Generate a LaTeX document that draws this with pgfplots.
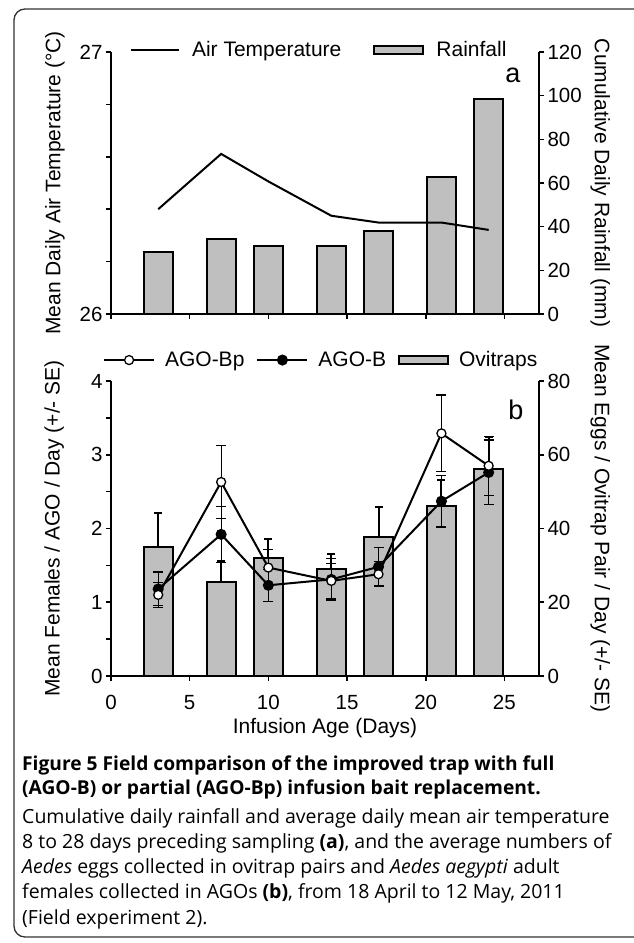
\documentclass[border=0pt]{standalone}
\usepackage{fontspec}
\setmainfont{Liberation Sans}
\newfontfamily\capfont{Open Sans}
\usepackage{pgfplots}
\usepackage{pgfplotstable}
\pgfplotsset{compat=1.18}

% panel a: rainfall (mm) and mean air temperature (C)
\pgfplotstableread{
x rain temp
3 28.3 26.400
7 34.4 26.611
10 31.3 26.506
14 31.3 26.375
17 37.8 26.349
21 62.7 26.349
24 98.5 26.321
}\toptable

% panel b: ovitrap eggs, AGO-Bp and AGO-B females, with SE
\pgfplotstableread{
x ovi ovie bp bpe b be
3 35.0 9.1 1.10 0.17 1.18 0.23
7 25.6 5.7 2.63 0.50 1.92 0.38
10 31.9 5.2 1.47 0.24 1.23 0.22
14 28.9 4.2 1.29 0.24 1.31 0.28
17 37.6 8.1 1.38 0.17 1.48 0.26
21 46.1 7.0 3.29 0.52 2.37 0.35
24 56.0 8.8 2.85 0.40 2.76 0.44
}\bottable

\pgfplotsset{
  panel/.style={
    scale only axis, width=428pt, xmin=0, xmax=27.2,
    tick align=outside,
    major tick length=5pt, minor tick length=5pt,
    tick style={black, line width=1.6pt},
    axis line style={-, line width=2.2pt},
    /pgf/number format/assume math mode=true,
    tick label style={font=\fontsize{20.5}{24}\selectfont},
    label style={font=\fontsize{21}{25}\selectfont},
    xtick={0,5,10,15,20,25},
    clip=false,
  },
  barstyle/.style={ybar, bar width=1.84, draw=black, fill=gray!50, line width=2pt},
  lineleg/.style={legend image code/.code={\draw[##1] (0pt,0pt) -- (48pt,0pt);}},
  markleg/.style={legend image code/.code={\draw[mark repeat=2,mark phase=2,##1] plot coordinates {(0pt,0pt) (25pt,0pt) (50pt,0pt)};}},
  barleg/.style={legend image code/.code={\draw[##1] (0pt,-4pt) rectangle (49pt,4pt);}},
  leftlab/.style={every axis y label/.style={at={(axis description cs:#1,0.5)}, rotate=90, anchor=center, font=\fontsize{21}{25}\selectfont}},
  rightlab/.style={every axis y label/.style={at={(axis description cs:#1,0.5)}, rotate=-90, anchor=center, font=\fontsize{21}{25}\selectfont}},
}

\begin{document}
\begin{tikzpicture}[x=1pt, y=1pt]
\useasboundingbox (0,0) rectangle (633,943);
\fill[white] (0,0) rectangle (633,943);
\draw[line width=1.3pt, black!80, rounded corners=11pt] (14,6) rectangle (680,934);

% ---- panel a ----
\begin{axis}[panel, at={(111pt,629pt)}, anchor=south west, height=262pt,
  ymin=0, ymax=120, ytick={0,20,...,120},
  axis x line=none, axis y line*=right,
  rightlab=1.143, ylabel={Cumulative Daily Rainfall (mm)}]
\addplot[barstyle] table[x=x, y=rain] {\toptable};
\end{axis}

\begin{axis}[panel, at={(111pt,629pt)}, anchor=south west, height=262pt,
  ymin=26, ymax=27, ytick={26,26.2,26.4,26.6,26.8,27}, yticklabels={26,,,,,27},
  axis x line*=bottom, axis y line*=left, xticklabels={},
  leftlab=-0.131, ylabel={Mean Daily Air Temperature (\textdegree C)},
  legend columns=-1, legend cell align=left,
  legend style={at={(axis description cs:0.044,1.008)}, anchor=west,
    draw=none, fill=none, inner sep=0pt, font=\fontsize{21}{25}\selectfont,
    nodes={inner sep=0pt},
    /tikz/every odd column/.append style={column sep=12pt},
    /tikz/every even column/.append style={column sep=32pt}}]
\addplot[black, line width=2pt, lineleg] table[x=x, y=temp] {\toptable};
\addlegendentry{Air Temperature}
\addlegendimage{draw=black, fill=gray!50, line width=2pt, barleg}
\addlegendentry{Rainfall}
\end{axis}

% ---- panel b ----
\begin{axis}[panel, at={(111pt,267pt)}, anchor=south west, height=295pt,
  ymin=0, ymax=80, ytick={0,20,...,80},
  axis x line=none, axis y line*=right,
  rightlab=1.143, ylabel={Mean Eggs / Ovitrap Pair / Day (+/- SE)}]
\addplot[barstyle,
  error bars/.cd, y dir=plus, y explicit,
  error bar style={black, line width=2pt},
  error mark options={rotate=90, black, mark size=4pt, line width=2pt}]
  table[x=x, y=ovi, y error=ovie] {\bottable};
\end{axis}

\begin{axis}[panel, at={(111pt,267pt)}, anchor=south west, height=295pt,
  ymin=0, ymax=4, ytick={0,0.5,1,1.5,2,2.5,3,3.5,4}, yticklabels={0,,1,,2,,3,,4},
  axis x line*=bottom, axis y line*=left,
  xticklabel style={yshift=-11pt},
  xlabel={Infusion Age (Days)},
  xlabel style={at={(axis description cs:0.5,-0.178)}, anchor=center},
  leftlab=-0.133, ylabel={Mean Females / AGO / Day (+/- SE)},
  legend columns=-1, legend cell align=left,
  legend style={at={(axis description cs:-0.019,1.071)}, anchor=west,
    draw=none, fill=none, inner sep=0pt, font=\fontsize{21}{25}\selectfont,
    nodes={inner sep=0pt},
    /tikz/every odd column/.append style={column sep=10pt},
    /tikz/every even column/.append style={column sep=12pt}}]
\addlegendimage{black, line width=2pt, mark=*, mark size=4.5pt,
  mark options={fill=white, line width=1.3pt}, markleg}
\addlegendentry{AGO-Bp}
\addplot[black, line width=2pt, mark=*, mark size=4.5pt, mark options={fill=black},
  markleg,
  error bars/.cd, y dir=both, y explicit,
  error bar style={black, line width=1.1pt},
  error mark options={rotate=90, black, mark size=5pt, line width=1.1pt}]
  table[x=x, y=b, y error=be] {\bottable};
\addlegendentry{AGO-B}
\addplot[black, line width=2pt, mark=*, mark size=4.5pt,
  mark options={fill=white, line width=1.3pt}, forget plot,
  error bars/.cd, y dir=both, y explicit,
  error bar style={black, line width=1.1pt},
  error mark options={rotate=90, black, mark size=5pt, line width=1.1pt}]
  table[x=x, y=bp, y error=bpe] {\bottable};
\addlegendimage{draw=black, fill=gray!50, line width=2pt, barleg}
\addlegendentry{Ovitraps}
\end{axis}

\node[anchor=base, font=\fontsize{27}{30}\selectfont] at (513,860) {a};
\node[anchor=base, font=\fontsize{27}{30}\selectfont] at (516,523) {b};

% ---- caption ----
\begin{scope}[every node/.style={anchor=base west, inner sep=0pt}]
\node[font=\capfont\bfseries\fontsize{19.2}{24}\selectfont] at (22,172) {Figure 5 Field comparison of the improved trap with full};
\node[font=\capfont\bfseries\fontsize{19.2}{24}\selectfont] at (22,148) {(AGO-B) or partial (AGO-Bp) infusion bait replacement.};
\node[font=\capfont\fontsize{19.5}{24}\selectfont] at (22,119) {Cumulative daily rainfall and average daily mean air temperature};
\node[font=\capfont\fontsize{19.5}{24}\selectfont] at (22,94) {8 to 28 days preceding sampling \textbf{(a)}, and the average numbers of};
\node[font=\capfont\fontsize{19.5}{24}\selectfont] at (22,69) {\textit{Aedes} eggs collected in ovitrap pairs and \textit{Aedes aegypti} adult};
\node[font=\capfont\fontsize{19.5}{24}\selectfont] at (22,44) {females collected in AGOs \textbf{(b)}, from 18 April to 12 May, 2011};
\node[font=\capfont\fontsize{19.5}{24}\selectfont] at (22,19) {(Field experiment 2).};
\end{scope}
\end{tikzpicture}
\end{document}
